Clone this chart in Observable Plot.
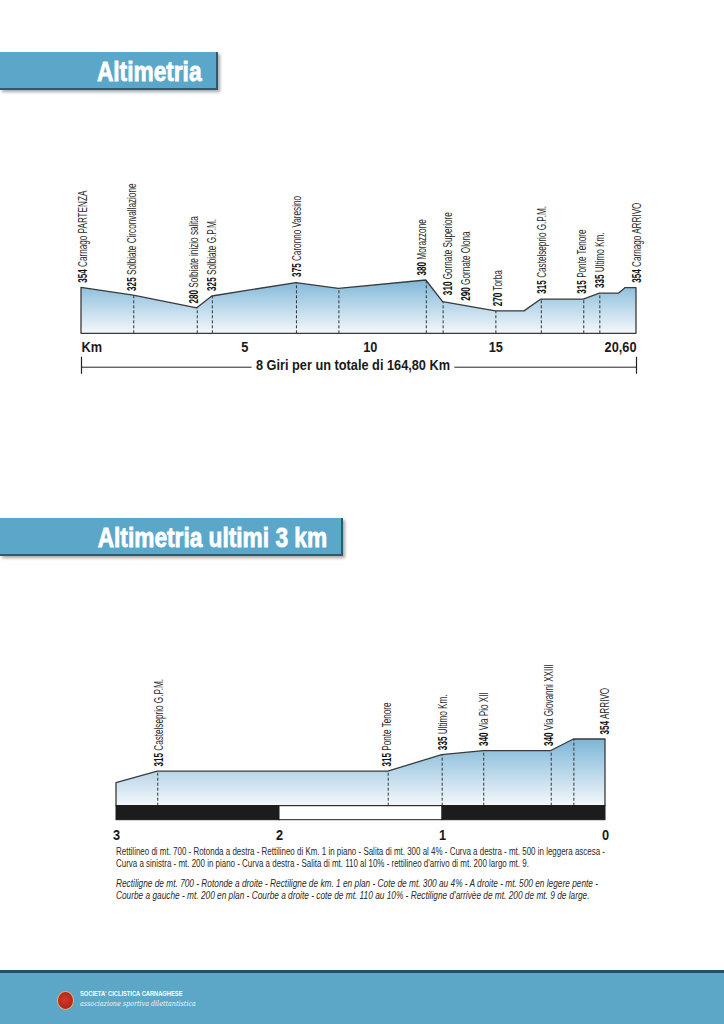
<!DOCTYPE html>
<html><head><meta charset="utf-8">
<script src="https://cdn.jsdelivr.net/npm/d3@7"></script>
<script src="https://cdn.jsdelivr.net/npm/@observablehq/plot@0.6"></script>
<style>
html,body{margin:0;padding:0;background:#fff;}
body{width:724px;height:1024px;position:relative;overflow:hidden;font-family:"Liberation Sans",Arial,sans-serif;color:#222;}
.banner{position:absolute;left:0;height:36px;background:#5ba7ca;border-right:2px solid #2b5a74;border-bottom:2px solid #2b5a74;box-shadow:2px 2px 3px rgba(0,0,0,.35);box-sizing:content-box;text-align:right;}
.banner span{position:absolute;right:14px;top:2px;color:#fff;font-weight:bold;font-size:27px;line-height:36px;white-space:nowrap;transform:scaleX(0.84);transform-origin:right center;-webkit-text-stroke:0.8px #fff;}
#b1{top:52px;width:216px;}
#b2{top:518px;width:341px;}
.chart{position:absolute;left:0;}
#topChart{top:170px;}
#lastChart{top:660px;}
.chart svg{overflow:visible;}
#desc{position:absolute;left:116px;top:846px;font-size:10px;line-height:12px;color:#2a2a2a;white-space:nowrap;}
#desc div{height:12px;}
#desc span{display:inline-block;transform-origin:left center;}
#desc .fr{font-style:italic;}
#desc .gap{margin-top:8px;}
#footer{position:absolute;left:0;top:970px;width:724px;height:54px;background:#5ca6c8;border-top:3px solid #21506d;}
#logo{position:absolute;left:57px;top:18px;width:15px;height:17px;border-radius:50%;background:radial-gradient(circle at 45% 45%,#d33a2a,#a31a12);border:1px solid #e0b36a;}
#ft1{position:absolute;left:80px;top:17px;color:#fff;font-weight:bold;font-size:7px;white-space:nowrap;transform:scaleX(0.82);transform-origin:left center;}
#ft2{position:absolute;left:80px;top:26px;color:#eef4f7;font-style:italic;font-size:7.5px;white-space:nowrap;font-family:"DejaVu Serif",serif;transform:scaleX(0.85);transform-origin:left center;}
</style></head>
<body>
<div class="banner" id="b1"><span>Altimetria</span></div>
<div class="banner" id="b2"><span>Altimetria ultimi 3 km</span></div>
<div class="chart" id="topChart"></div>
<div class="chart" id="lastChart"></div>
<div id="desc">
<div class="it"><span>Rettilineo di mt. 700 - Rotonda a destra - Rettilineo di Km. 1 in piano - Salita di mt. 300 al 4% - Curva a destra - mt. 500 in leggera ascesa -</span></div>
<div class="it"><span>Curva a sinistra - mt. 200 in piano - Curva a destra - Salita di mt. 110 al 10% - rettilineo d'arrivo di mt. 200 largo mt. 9.</span></div>
<div class="fr gap"><span>Rectiligne de mt. 700 - Rotonde a droite - Rectiligne de km. 1 en plan - Cote de mt. 300 au 4% - A droite - mt. 500 en legere pente -</span></div>
<div class="fr"><span>Courbe a gauche - mt. 200 en plan - Courbe a droite - cote de mt. 110 au 10% - Rectiligne d'arrivèe de mt. 200 de mt. 9 de large.</span></div>
</div>
<div id="footer"><div id="logo"></div><div id="ft1">SOCIETA' CICLISTICA CARNAGHESE</div><div id="ft2">associazione sportiva dilettantistica</div></div>
<script>
// ---- Full lap profile ----
const topKm   = [-1.5, 0.58, 3.11, 3.71, 7.06, 8.75, 12.23, 12.90, 15.0, 16.14, 16.81, 18.50, 19.14, 19.90, 20.17, 20.6];
const topAlt  = [354, 326, 281, 323, 371, 350, 380, 303, 270, 270, 312, 312, 333, 333, 353, 353];
const topMarkerIdx = [1, 2, 3, 4, 5, 6, 7, 8, 10, 11, 12];
const topLabelKm   = [-1.42, 0.52, 3.0, 3.71, 7.09, 12.07, 13.09, 13.83, 15.08, 16.85, 18.44, 19.17, 20.63];
const topLabelAlt  = [354, 325, 280, 325, 375, 380, 310, 290, 270, 315, 315, 335, 354];
const topLabelName = ["Carnago PARTENZA", "Solbiate Circonvallazione", "Solbiate inizio salita", "Solbiate G.P.M.", "Caronno Varesino", "Morazzone", "Gornate Superiore", "Gornate Olona", "Torba", "Castelseprio G.P.M.", "Ponte Tenore", "Ultimo Km.", "Carnago ARRIVO"];
const topTicks = [5, 10, 15];
const topStartLabel = "Km";
const topEndLabel = "20,60";
const topLapText = "8 Giri per un totale di 164,80 Km";
const topAltDomain = [190, 380];

// ---- Last 3 km profile ----
const lastKm  = [3.0, 2.747, 1.333, 1.002, 0.747, 0.333, 0.194, 0];
const lastAlt = [301, 315, 315, 335, 340, 340, 354, 354];
const lastMarkerIdx = [1, 2, 3, 4, 5, 6];
const lastLabelKm   = [2.74, 1.34, 0.996, 0.747, 0.344, 0.0];
const lastLabelAlt  = [315, 315, 335, 340, 340, 354];
const lastLabelName = ["Castelseprio G.P.M.", "Ponte Tenore", "Ultimo Km.", "Via Pio XII", "Via Giovanni XXIII", "ARRIVO"];
const lastTicks = [3, 2, 1, 0];
const lastBarFrom = [3, 2, 1];
const lastBarTo   = [2, 1, 0];
const lastAltDomain = [273, 354];

const FONT = '"Liberation Sans",Arial,sans-serif';
const INK = "#3a3a3a";
const NS = "http://www.w3.org/2000/svg";

function gradient(id, c0, c1) {
  return () => {
    const defs = document.createElementNS(NS, "defs");
    defs.innerHTML = `<linearGradient id="${id}" x1="0" y1="0" x2="0" y2="1"><stop offset="0" stop-color="${c0}"/><stop offset="1" stop-color="${c1}"/></linearGradient>`;
    return defs;
  };
}

function labelMark(km, alt, name) {
  const idx = d3.range(km.length);
  return Plot.text(idx, {x: i => km[i], y: i => alt[i], text: i => alt[i] + " " + name[i], rotate: -90, textAnchor: "start", lineAnchor: "middle", dy: -5, fontSize: 12, fill: "#2a2a2a", fontFamily: FONT, ariaDescription: "stop-label"});
}

function condense(svg, desc, f) {
  svg.querySelectorAll(`g[aria-description="${desc}"] text`).forEach(t => {
    let tr = t.getAttribute("transform");
    if (!tr) {
      tr = `translate(${t.getAttribute("x") || 0},${t.getAttribute("y") || 0})`;
      t.removeAttribute("x"); t.removeAttribute("y");
    }
    t.setAttribute("transform", tr + ` scale(${f},1)`);
  });
}

function splitLabels(svg) {
  svg.querySelectorAll('g[aria-description="stop-label"] text').forEach(t => {
    const s = t.textContent; const k = s.indexOf(" ");
    t.textContent = "";
    const a = document.createElementNS(NS, "tspan");
    a.setAttribute("font-weight", "bold"); a.setAttribute("fill", "#111");
    a.textContent = s.slice(0, k);
    const b = document.createElementNS(NS, "tspan");
    b.textContent = s.slice(k);
    t.append(a, b);
  });
  condense(svg, "stop-label", 0.68);
}

const tickStyle = {fontWeight: "bold", fontSize: 14.5, fill: "#1a1a1a", lineAnchor: "middle", ariaDescription: "tick-label"};

// Top chart
{
  const idx = d3.range(topKm.length);
  const base = topAltDomain[0];
  const chart = Plot.plot({
    width: 724, height: 215,
    marginLeft: 81, marginRight: 88, marginTop: 110, marginBottom: 51.7,
    x: {domain: [topKm[0], topKm[topKm.length - 1]], axis: null},
    y: {domain: topAltDomain, axis: null},
    style: {fontFamily: FONT, background: "transparent", overflow: "visible"},
    marks: [
      gradient("gTop", "#80b7d8", "#f4f8fb"),
      Plot.areaY(idx, {x: i => topKm[i], y1: base, y2: i => topAlt[i], fill: "url(#gTop)", stroke: INK, strokeWidth: 1.3}),
      Plot.ruleX(topMarkerIdx, {x: i => topKm[i], y1: base, y2: i => topAlt[i], stroke: "#333", strokeWidth: 1, strokeDasharray: "3,2"}),
      labelMark(topLabelKm, topLabelAlt, topLabelName),
      Plot.text(topTicks, {x: d => d, frameAnchor: "bottom", dy: 13.5, text: d => String(d), ...tickStyle}),
      Plot.text([topStartLabel], {frameAnchor: "bottom-left", dy: 13.5, textAnchor: "start", ...tickStyle}),
      Plot.text([topEndLabel], {frameAnchor: "bottom-right", dy: 13.5, textAnchor: "end", ...tickStyle}),
      Plot.ruleY([base], {x1: topKm[0], x2: topKm[topKm.length - 1], dy: 33.4, stroke: "#222", strokeWidth: 1}),
      Plot.ruleX([topKm[0], topKm[topKm.length - 1]], {y1: base, y2: base, dy: 32, insetTop: -8.5, insetBottom: -8.5, stroke: "#222", strokeWidth: 1.2}),
      Plot.text([topLapText], {frameAnchor: "bottom", dx: -6, dy: 32, ...tickStyle, stroke: "white", strokeWidth: 11})
    ]
  });
  splitLabels(chart);
  condense(chart, "tick-label", 0.88);
  document.getElementById("topChart").append(chart);
}

// Last 3 km chart
{
  const idx = d3.range(lastKm.length);
  const base = lastAltDomain[0];
  const bars = d3.range(lastBarFrom.length);
  const chart = Plot.plot({
    width: 724, height: 190,
    marginLeft: 116, marginRight: 119, marginTop: 79, marginBottom: 44.3,
    x: {domain: [lastKm[0], lastKm[lastKm.length - 1]], axis: null},
    y: {domain: lastAltDomain, axis: null},
    style: {fontFamily: FONT, background: "transparent", overflow: "visible"},
    marks: [
      gradient("gLast", "#7db5d7", "#f4f8fb"),
      Plot.areaY(idx, {x: i => lastKm[i], y1: base, y2: i => lastAlt[i], fill: "url(#gLast)", stroke: INK, strokeWidth: 1.3}),
      Plot.ruleX(lastMarkerIdx, {x: i => lastKm[i], y1: base, y2: i => lastAlt[i], stroke: "#333", strokeWidth: 1, strokeDasharray: "3,2"}),
      Plot.rect(bars, {x1: i => lastBarFrom[i], x2: i => lastBarTo[i], y1: base, y2: base, insetBottom: -14, fill: i => (i % 2 ? "#ffffff" : "#1c1c1c"), stroke: "#1c1c1c", strokeWidth: 1}),
      labelMark(lastLabelKm, lastLabelAlt, lastLabelName),
      Plot.text(lastTicks, {x: d => d, frameAnchor: "bottom", dy: 29.5, text: d => String(d), ...tickStyle})
    ]
  });
  splitLabels(chart);
  condense(chart, "tick-label", 0.88);
  document.getElementById("lastChart").append(chart);
}

// fit description lines to the printed widths
{
  const spans = document.querySelectorAll("#desc span");
  const f1 = 489 / spans[0].getBoundingClientRect().width;
  const f2 = 482 / spans[2].getBoundingClientRect().width;
  spans.forEach((s, i) => { s.style.transform = `scaleX(${i < 2 ? f1 : f2})`; });
}
</script>
</body></html>
